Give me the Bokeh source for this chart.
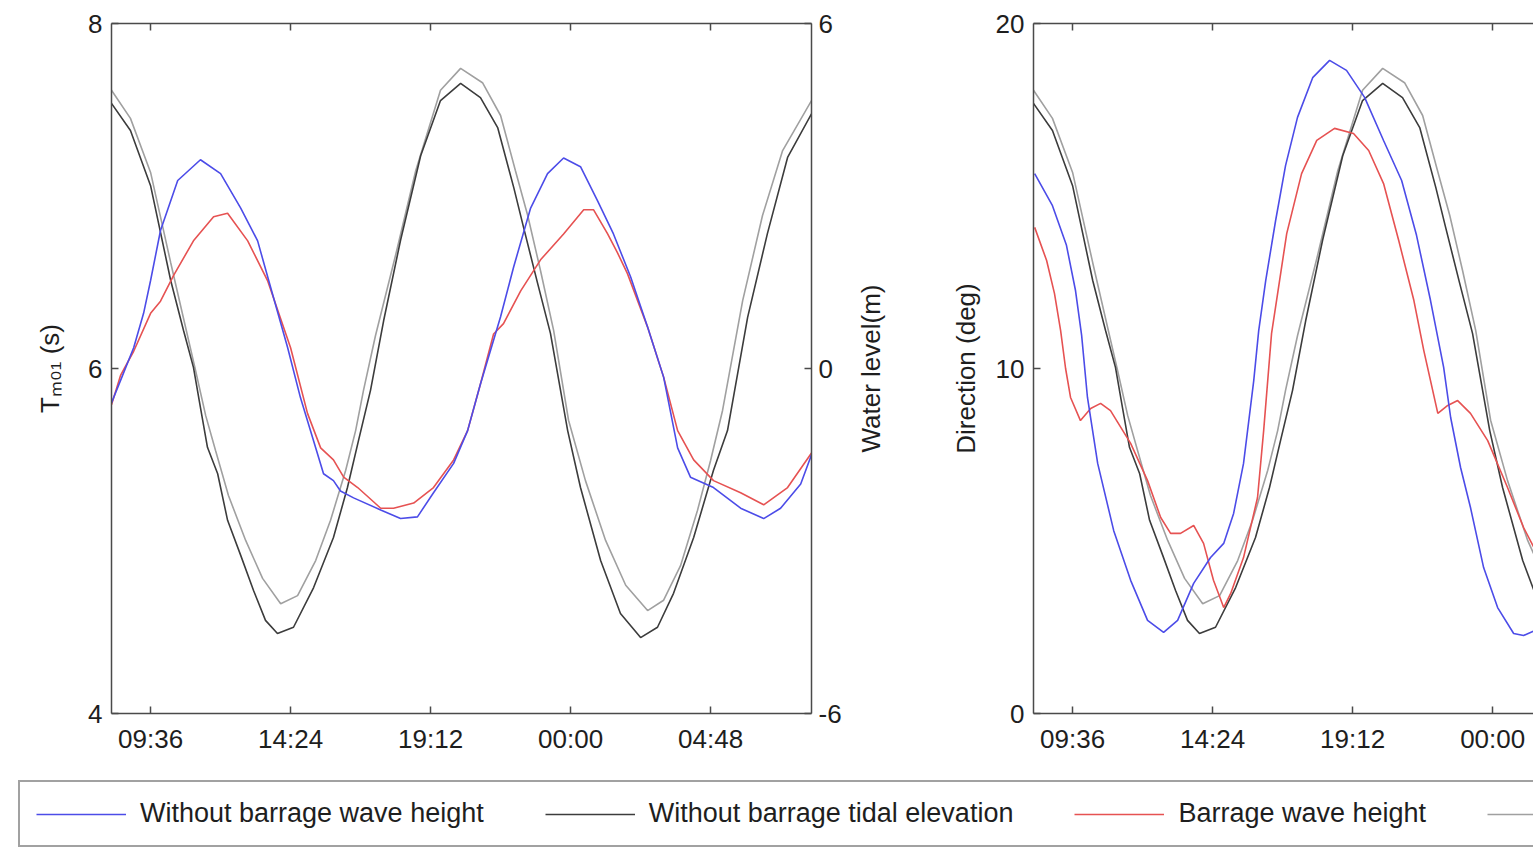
import math
from bokeh.plotting import figure
from bokeh.models import Range1d, LinearAxis, FixedTicker, Legend, LegendItem, Label
from bokeh.layouts import column, row
from bokeh.embed import file_html
from bokeh.resources import INLINE

# ---------------- data (time in hours from 00:00 of day 1) ----------------
tick_hours = [9.6, 14.4, 19.2, 24.0, 28.8]
tick_labels = ["09:36", "14:24", "19:12", "00:00", "04:48"]

# Without barrage tidal elevation (m)
t_tide_nb = [8.26, 8.91, 9.60, 10.29, 10.73, 11.07, 11.31, 11.55, 11.90, 12.24, 12.69, 13.13, 13.54, 13.95,
             14.50, 15.19, 15.87, 16.35, 16.73, 17.14, 17.59, 18.17, 18.86, 19.54, 20.23, 20.91, 21.50,
             22.05, 22.39, 22.87, 23.31, 23.90, 24.34, 25.03, 25.71, 26.40, 26.98, 27.53, 28.22, 28.90,
             29.38, 30.07, 30.75, 31.44, 32.26]
wl_nb = [4.61, 4.14, 3.18, 1.53, 0.66, 0.02, -0.68, -1.37, -1.83, -2.64, -3.25, -3.86, -4.38, -4.61,
         -4.50, -3.81, -2.94, -2.07, -1.25, -0.38, 0.83, 2.23, 3.70, 4.66, 4.96, 4.71, 4.19,
         3.15, 2.45, 1.48, 0.61, -1.08, -2.07, -3.34, -4.26, -4.68, -4.50, -3.91, -2.94, -1.77,
         -1.08, 0.89, 2.35, 3.67, 4.43]

# Barrage tidal elevation (m)
t_tide_b = [8.26, 8.91, 9.60, 10.29, 10.73, 11.14, 11.49, 11.83, 12.27, 12.86, 13.44, 14.06, 14.64, 15.26,
            15.77, 16.29, 16.63, 16.90, 17.31, 18.00, 18.69, 19.54, 20.23, 20.98, 21.60, 22.11, 22.53,
            22.97, 23.42, 23.93, 24.51, 25.20, 25.89, 26.64, 27.19, 27.77, 28.35, 28.80, 29.21, 29.90,
            30.58, 31.27, 32.26]
wl_b = [4.84, 4.35, 3.41, 1.84, 0.87, -0.03, -0.82, -1.43, -2.21, -2.99, -3.65, -4.09, -3.95, -3.34,
        -2.64, -1.77, -1.08, -0.38, 0.57, 1.97, 3.44, 4.84, 5.22, 4.97, 4.40, 3.44, 2.66,
        1.70, 0.66, -0.90, -1.95, -2.99, -3.77, -4.21, -4.03, -3.43, -2.47, -1.60, -0.73, 1.18,
        2.66, 3.79, 4.66]

# Without barrage Tm01 (s)
t_tm_nb = [8.26, 8.64, 9.02, 9.36, 9.60, 9.94, 10.53, 11.31, 12.00, 12.69, 13.27, 13.65, 14.30, 14.74,
           15.19, 15.53, 15.87, 16.11, 16.56, 17.49, 18.17, 18.75, 19.30, 19.99, 20.47, 20.91, 21.60,
           22.05, 22.63, 23.21, 23.76, 24.34, 24.93, 25.47, 26.06, 26.64, 27.19, 27.67, 28.11, 28.90,
           29.83, 30.62, 31.20, 31.89, 32.26]
tm_nb = [5.80, 5.96, 6.12, 6.32, 6.51, 6.80, 7.09, 7.21, 7.13, 6.93, 6.74, 6.51, 6.12, 5.83,
         5.58, 5.39, 5.35, 5.29, 5.25, 5.18, 5.13, 5.14, 5.28, 5.45, 5.64, 5.91, 6.30,
         6.59, 6.93, 7.13, 7.22, 7.17, 6.97, 6.78, 6.53, 6.24, 5.95, 5.54, 5.37, 5.31,
         5.19, 5.13, 5.19, 5.33, 5.50]

# Barrage Tm01 (s)
t_tm_b = [8.26, 8.57, 9.02, 9.60, 9.94, 10.39, 11.07, 11.76, 12.24, 12.93, 13.61, 14.40, 14.98, 15.43,
          15.87, 16.22, 16.70, 17.49, 17.93, 18.62, 19.30, 19.99, 20.47, 20.91, 21.36, 21.70, 22.29,
          22.97, 23.76, 24.45, 24.79, 25.27, 25.61, 25.95, 26.64, 27.19, 27.67, 28.22, 28.90, 29.83,
          30.62, 31.44, 32.26]
tm_b = [5.79, 5.96, 6.10, 6.32, 6.39, 6.54, 6.74, 6.88, 6.90, 6.74, 6.51, 6.12, 5.74, 5.54,
        5.47, 5.37, 5.31, 5.19, 5.19, 5.22, 5.31, 5.47, 5.64, 5.91, 6.20, 6.26, 6.45,
        6.63, 6.78, 6.92, 6.92, 6.78, 6.67, 6.55, 6.24, 5.95, 5.64, 5.47, 5.35, 5.28,
        5.21, 5.31, 5.51]

# Without barrage direction (deg)
t_dir_nb = [8.30, 8.91, 9.39, 9.70, 9.91, 10.11, 10.46, 11.01, 11.59, 12.17, 12.72, 13.20, 13.75, 14.33,
            14.78, 15.12, 15.46, 15.81, 15.98, 16.22, 16.56, 16.90, 17.31, 17.83, 18.41, 18.99, 19.61,
            20.26, 20.88, 21.39, 21.87, 22.32, 22.56, 22.90, 23.24, 23.69, 24.17, 24.72, 25.06, 25.47]
dir_nb = [15.65, 14.72, 13.57, 12.26, 10.96, 9.16, 7.25, 5.30, 3.86, 2.70, 2.35, 2.70, 3.77, 4.52,
          4.93, 5.80, 7.25, 9.65, 11.10, 12.55, 14.29, 15.88, 17.28, 18.43, 18.93, 18.64, 17.86,
          16.61, 15.45, 13.86, 11.97, 10.03, 8.58, 7.13, 5.97, 4.23, 3.07, 2.32, 2.26, 2.41]

# Barrage direction (deg)
t_dir_b = [8.30, 8.71, 8.98, 9.19, 9.36, 9.53, 9.87, 10.22, 10.56, 10.90, 11.59, 12.17, 12.62, 12.96,
           13.30, 13.75, 14.09, 14.43, 14.78, 15.02, 15.46, 15.94, 16.15, 16.42, 16.94, 17.45, 17.97,
           18.58, 19.23, 19.75, 20.26, 20.78, 21.30, 21.64, 22.12, 22.46, 22.80, 23.24, 23.83, 24.51,
           25.06, 25.47]
dir_b = [14.09, 13.13, 12.17, 11.10, 10.00, 9.16, 8.49, 8.84, 8.99, 8.78, 7.83, 6.75, 5.68, 5.22,
         5.22, 5.45, 4.93, 3.86, 3.07, 3.48, 4.52, 6.26, 8.20, 11.01, 13.91, 15.65, 16.61,
         16.96, 16.81, 16.32, 15.36, 13.71, 11.97, 10.52, 8.70, 8.93, 9.07, 8.70, 7.91, 6.55,
         5.39, 4.72]

legend_labels = ["Without barrage wave height", "Without barrage tidal elevation",
                 "Barrage wave height", "Barrage tidal elevation"]

# ---------------- styles ----------------
FONT = "Liberation Sans"
AX = "#4a4a4a"
TXT = "#1e1e1e"
BLUE = "#4c4ce8"
RED = "#e65252"
DGRAY = "#3c3c3c"
LGRAY = "#a0a0a0"
LW = 1.6

X0, X1 = 8.26, 32.26          # left panel time window (24 h)
X1_RIGHT = 25.40              # right panel is cut by the page edge


def style_axis(ax, ticks, overrides=None, show_labels=True, standoff=8):
    ax.ticker = FixedTicker(ticks=ticks)
    ax.minor_tick_line_color = None
    ax.major_tick_in = 7
    ax.major_tick_out = 0
    ax.axis_line_color = AX
    ax.axis_line_width = 1.5
    ax.major_tick_line_color = AX
    ax.major_tick_line_width = 1.5
    ax.major_label_text_font = FONT
    ax.major_label_text_font_size = "26px"
    ax.major_label_text_color = TXT
    ax.major_label_standoff = standoff
    ax.axis_label_text_font = FONT
    ax.axis_label_text_font_size = "26px"
    ax.axis_label_text_font_style = "normal"
    ax.axis_label_text_color = TXT
    if overrides:
        ax.major_label_overrides = overrides
    if not show_labels:
        ax.major_label_text_font_size = "1px"
        ax.major_label_text_alpha = 0
        ax.major_label_standoff = 0


x_over = {h: l for h, l in zip(tick_hours, tick_labels)}
BORDERS = dict(min_border_top=23, min_border_bottom=55)

# ---------------- left panel ----------------
p1 = figure(width=850, height=768, x_range=Range1d(X0, X1), y_range=Range1d(4, 8),
            output_backend="svg", toolbar_location=None,
            min_border_left=111, min_border_right=39, **BORDERS)
p1.extra_y_ranges = {"wl": Range1d(-6, 6)}
p1.grid.visible = False
p1.outline_line_color = None

style_axis(p1.xaxis[0], tick_hours, x_over, standoff=10)
style_axis(p1.yaxis[0], [4, 6, 8], {4: "4", 6: "6", 8: "8"}, standoff=9)
p1.yaxis[0].axis_label = "T\u2098\u2080\u2081 (s)"
p1.yaxis[0].axis_label_standoff = 20

ax_top1 = LinearAxis()
style_axis(ax_top1, tick_hours, show_labels=False)
p1.add_layout(ax_top1, "above")

ax_r1 = LinearAxis(y_range_name="wl")
style_axis(ax_r1, [-6, 0, 6], {-6: "-6", 0: "0", 6: "6"}, standoff=7)
p1.add_layout(ax_r1, "right")

p1.line(t_tide_b, wl_b, y_range_name="wl", line_color=LGRAY, line_width=LW)
p1.line(t_tide_nb, wl_nb, y_range_name="wl", line_color=DGRAY, line_width=LW)
p1.line(t_tm_b, tm_b, line_color=RED, line_width=LW)
p1.line(t_tm_nb, tm_nb, line_color=BLUE, line_width=LW)

# ---------------- strip holding the right-axis title (reads bottom-to-top) ----------------
pl = figure(width=40, height=768, x_range=Range1d(0, 1), y_range=Range1d(-6, 6),
            output_backend="svg", toolbar_location=None, min_border_left=0, min_border_right=0,
            x_axis_type=None, y_axis_type=None, **BORDERS)
pl.grid.visible = False
pl.outline_line_color = None
pl.add_layout(Label(x=0.5, y=0, text="Water level(m)", angle=math.pi / 2,
                    text_align="center", text_baseline="middle",
                    text_font=FONT, text_font_size="26px", text_color=TXT))

# ---------------- right panel ----------------
p2 = figure(width=643, height=768, x_range=Range1d(X0, X1_RIGHT), y_range=Range1d(0, 20),
            output_backend="svg", toolbar_location=None,
            min_border_left=143, min_border_right=0, **BORDERS)
p2.extra_y_ranges = {"wl": Range1d(-6, 6)}
p2.grid.visible = False
p2.outline_line_color = None

style_axis(p2.xaxis[0], tick_hours, x_over, standoff=10)
style_axis(p2.yaxis[0], [0, 10, 20], {0: "0", 10: "10", 20: "20"}, standoff=9)
p2.yaxis[0].axis_label = "Direction (deg)"
p2.yaxis[0].axis_label_standoff = 12

ax_top2 = LinearAxis()
style_axis(ax_top2, tick_hours, show_labels=False)
p2.add_layout(ax_top2, "above")

p2.line(t_tide_b, wl_b, y_range_name="wl", line_color=LGRAY, line_width=LW)
p2.line(t_tide_nb, wl_nb, y_range_name="wl", line_color=DGRAY, line_width=LW)
p2.line(t_dir_b, dir_b, line_color=RED, line_width=LW)
p2.line(t_dir_nb, dir_nb, line_color=BLUE, line_width=LW)

# ---------------- legend strip ----------------
p3 = figure(width=1533, height=80, x_range=Range1d(0, 1), y_range=Range1d(0, 1),
            output_backend="svg", toolbar_location=None, min_border=0,
            x_axis_type=None, y_axis_type=None)
p3.grid.visible = False
p3.outline_line_color = None
colors = [BLUE, DGRAY, RED, LGRAY]
items = []
for lab, c in zip(legend_labels, colors):
    # proxy renderers lying outside the visible range: only their legend glyphs show
    r = p3.line(x=[-3, -2], y=[-3, -2], line_color=c, line_width=LW)
    items.append(LegendItem(label=lab, renderers=[r]))
leg = Legend(items=items, orientation="horizontal", location=(18, 1),
             glyph_width=90, glyph_height=28, label_height=28, label_standoff=14,
             spacing=61, padding=16, margin=0,
             label_text_font=FONT, label_text_font_size="27px", label_text_color=TXT,
             border_line_color="#444444", border_line_width=2,
             background_fill_color="white", background_fill_alpha=1.0)
p3.add_layout(leg)

layout = column(row(p1, pl, p2), p3)
open("out.html", "w").write(file_html(layout, INLINE))
